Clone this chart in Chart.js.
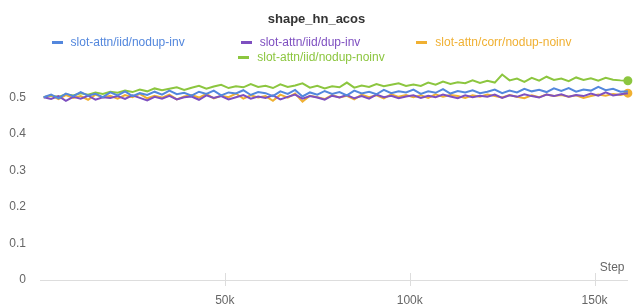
<!DOCTYPE html>
<html>
<head>
<meta charset="utf-8">
<script src="https://cdn.jsdelivr.net/npm/chart.js@4/dist/chart.umd.min.js"></script>
<style>
  body { margin: 0; background: #fff; }
  #wrap { position: relative; width: 633px; height: 306px; }
  #legend {
    position: absolute; top: 35px; left: -5px; width: 633px;
    display: flex; flex-wrap: wrap; justify-content: center;
    column-gap: 56px; row-gap: 1px;
    font: 12px "Liberation Sans", Arial, sans-serif; line-height: 14px;
  }
  #legend .item { display: flex; align-items: center; white-space: nowrap; }
  #legend .mark { display: inline-block; width: 11px; height: 3px; margin-right: 8px; }
</style>
</head>
<body>
<div id="wrap">
  <canvas id="chart" width="633" height="306"></canvas>
  <div id="legend"></div>
</div>
<script>
"use strict";

const steps = [
  1000, 3000, 5000, 7000, 9000, 11000, 13000, 15000, 17000, 19000,
  21000, 23000, 25000, 27000, 29000, 31000, 33000, 35000, 37000, 39000,
  41000, 43000, 45000, 47000, 49000, 51000, 53000, 55000, 57000, 59000,
  61000, 63000, 65000, 67000, 69000, 71000, 73000, 75000, 77000, 79000,
  81000, 83000, 85000, 87000, 89000, 91000, 93000, 95000, 97000, 99000,
  101000, 103000, 105000, 107000, 109000, 111000, 113000, 115000, 117000, 119000,
  121000, 123000, 125000, 127000, 129000, 131000, 133000, 135000, 137000, 139000,
  141000, 143000, 145000, 147000, 149000, 151000, 153000, 155000, 157000, 159000
];

const series_names = [
  'slot-attn/iid/nodup-inv',
  'slot-attn/iid/dup-inv',
  'slot-attn/corr/nodup-noinv',
  'slot-attn/iid/nodup-noinv'
];

const series_colors = ['#5387dd', '#7e4fc0', '#f0b032', '#8cc63f'];

const nodup_inv = [
  0.500, 0.507, 0.497, 0.510, 0.503, 0.514, 0.504, 0.509, 0.500, 0.513,
  0.505, 0.516, 0.503, 0.511, 0.506, 0.515, 0.507, 0.518, 0.508, 0.512,
  0.504, 0.515, 0.509, 0.518, 0.505, 0.513, 0.510, 0.519, 0.506, 0.514,
  0.511, 0.503, 0.516, 0.509, 0.520, 0.502, 0.513, 0.507, 0.517, 0.509,
  0.514, 0.505, 0.518, 0.510, 0.515, 0.508, 0.520, 0.511, 0.516, 0.513,
  0.521, 0.509, 0.516, 0.512, 0.522, 0.510, 0.517, 0.513, 0.519, 0.511,
  0.515, 0.521, 0.511, 0.518, 0.513, 0.523, 0.516, 0.520, 0.514, 0.524,
  0.517, 0.525, 0.515, 0.521, 0.518, 0.528, 0.519, 0.523, 0.515, 0.516
];

const dup_inv = [
  0.500, 0.495, 0.503, 0.490, 0.501, 0.496, 0.504, 0.493, 0.500, 0.498,
  0.503, 0.495, 0.505, 0.498, 0.491, 0.501, 0.496, 0.504, 0.494, 0.500,
  0.502, 0.493, 0.505, 0.498, 0.503, 0.494, 0.500, 0.506, 0.496, 0.502,
  0.498, 0.505, 0.494, 0.501, 0.507, 0.496, 0.503, 0.499, 0.493, 0.504,
  0.499, 0.506, 0.497, 0.503, 0.496, 0.507, 0.500, 0.504, 0.497, 0.502,
  0.505, 0.498, 0.504, 0.500, 0.507, 0.502, 0.497, 0.505, 0.500, 0.504,
  0.501, 0.507, 0.498, 0.505, 0.501, 0.508, 0.503, 0.499, 0.507, 0.503,
  0.508, 0.501, 0.506, 0.503, 0.510, 0.504, 0.513, 0.505, 0.508, 0.511
];

const corr_nodup_noinv = [
  0.500, 0.505, 0.495, 0.506, 0.498, 0.503, 0.493, 0.507, 0.499, 0.504,
  0.496, 0.506, 0.500, 0.509, 0.497, 0.504, 0.499, 0.507, 0.494, 0.502,
  0.506, 0.499, 0.509, 0.497, 0.504, 0.500, 0.510, 0.496, 0.505, 0.499,
  0.503, 0.490, 0.507, 0.499, 0.510, 0.488, 0.504, 0.500, 0.495, 0.506,
  0.499, 0.504, 0.494, 0.507, 0.500, 0.505, 0.497, 0.508, 0.501, 0.506,
  0.500, 0.505, 0.498, 0.508, 0.501, 0.506, 0.503, 0.498, 0.505, 0.501,
  0.507, 0.503, 0.499, 0.506, 0.501, 0.497, 0.505, 0.500, 0.507, 0.503,
  0.506, 0.501, 0.505, 0.498, 0.503, 0.507, 0.504, 0.509, 0.506, 0.511
];

const iid_nodup_noinv = [
  0.500, 0.504, 0.501, 0.508, 0.505, 0.511, 0.507, 0.513, 0.509, 0.515,
  0.512, 0.518, 0.514, 0.521, 0.516, 0.524, 0.519, 0.523, 0.527, 0.520,
  0.526, 0.531, 0.523, 0.529, 0.534, 0.525, 0.530, 0.527, 0.536, 0.528,
  0.531, 0.525, 0.535, 0.528, 0.532, 0.538, 0.526, 0.531, 0.524, 0.530,
  0.527, 0.540, 0.526, 0.532, 0.528, 0.536, 0.530, 0.534, 0.538, 0.531,
  0.535, 0.531, 0.540, 0.534, 0.543, 0.536, 0.541, 0.538, 0.546, 0.539,
  0.545, 0.540, 0.562, 0.546, 0.551, 0.542, 0.553, 0.545, 0.556, 0.547,
  0.551, 0.544, 0.554, 0.547, 0.552, 0.545, 0.553, 0.548, 0.546, 0.545
];

const series_values = [nodup_inv, dup_inv, corr_nodup_noinv, iid_nodup_noinv];
const end_dot = [false, false, true, true];

const x_ticks = [50000, 100000, 150000];

/* tick marks crossing the x axis line, and the "Step" label */
const axis_marks = {
  id: 'axis_marks',
  afterDraw(chart) {
    const ctx = chart.ctx;
    const xs = chart.scales.x;
    ctx.save();
    ctx.strokeStyle = '#dddddd';
    ctx.lineWidth = 1;
    x_ticks.forEach(v => {
      const px = Math.round(xs.getPixelForValue(v)) + 0.5;
      ctx.beginPath();
      ctx.moveTo(px, xs.top - 7);
      ctx.lineTo(px, xs.top + 6);
      ctx.stroke();
    });
    ctx.fillStyle = '#666';
    ctx.font = '12px "Liberation Sans", Arial, sans-serif';
    ctx.textAlign = 'right';
    ctx.textBaseline = 'middle';
    ctx.fillText('Step', chart.chartArea.right - 3, xs.top - 12);
    ctx.restore();
  }
};

const datasets = series_names.map((name, i) => ({
  label: name,
  data: steps.map((s, j) => ({ x: s, y: series_values[i][j] })),
  borderColor: series_colors[i],
  backgroundColor: series_colors[i],
  borderWidth: 2,
  tension: 0,
  pointRadius: c => (end_dot[i] && c.dataIndex === steps.length - 1) ? 3.5 : 0,
  pointHoverRadius: 0,
  clip: false
}));

const chart = new Chart(document.getElementById('chart'), {
  type: 'line',
  data: { datasets: datasets },
  options: {
    responsive: false,
    animation: false,
    layout: { padding: 0 },
    plugins: {
      legend: { display: false },
      tooltip: { enabled: false },
      title: {
        display: true,
        text: 'shape_hn_acos',
        color: '#333',
        font: { family: '"Liberation Sans", Arial, sans-serif', size: 13, weight: 'bold' },
        padding: { top: 12, bottom: 44 }
      }
    },
    scales: {
      x: {
        type: 'linear',
        min: 0,
        max: 158900,
        grid: { display: true, drawOnChartArea: false, drawTicks: false },
        border: { display: true, color: '#dddddd', width: 1 },
        afterBuildTicks: s => { s.ticks = x_ticks.map(v => ({ value: v })); },
        afterFit: s => { s.height = 26; },
        ticks: {
          color: '#666',
          padding: 13,
          maxRotation: 0,
          font: { family: '"Liberation Sans", Arial, sans-serif', size: 12 },
          callback: v => (v / 1000) + 'k'
        }
      },
      y: {
        min: 0,
        max: 0.57,
        grid: { display: false },
        border: { display: false },
        afterFit: s => { s.width = 40; },
        ticks: {
          stepSize: 0.1,
          includeBounds: false,
          color: '#666',
          padding: 6,
          font: { family: '"Liberation Sans", Arial, sans-serif', size: 12 },
          callback: v => Number(v.toFixed(1)) === 0 ? '0' : v.toFixed(1)
        }
      }
    }
  },
  plugins: [axis_marks]
});

/* html legend, coloured text like the original */
const legend = document.getElementById('legend');
series_names.forEach((name, i) => {
  const item = document.createElement('div');
  item.className = 'item';
  item.style.color = series_colors[i];
  const mark = document.createElement('span');
  mark.className = 'mark';
  mark.style.background = series_colors[i];
  item.appendChild(mark);
  item.appendChild(document.createTextNode(name));
  legend.appendChild(item);
});
</script>
</body>
</html>
